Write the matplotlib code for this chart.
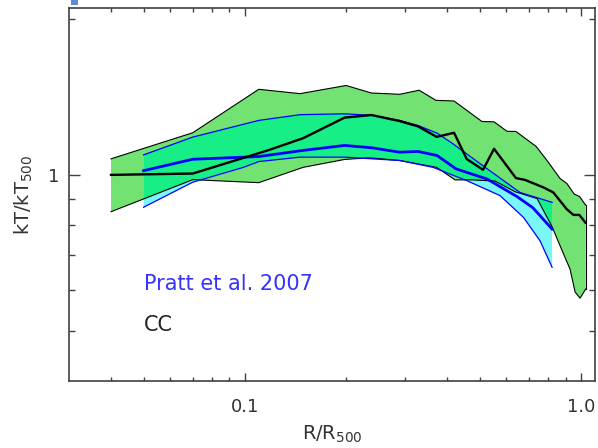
import matplotlib
matplotlib.use('Agg')
import matplotlib.pyplot as plt
from matplotlib.patches import Rectangle
from matplotlib.ticker import FixedLocator, FixedFormatter, NullFormatter
import numpy as np

plt.rcParams['font.family'] = ['DejaVu Sans']
plt.rcParams['mathtext.default'] = 'regular'

# CC sample: median profile and scatter envelope
cc_x = [0.040, 0.070, 0.117, 0.149, 0.198, 0.238, 0.289, 0.328, 0.372, 0.419, 0.457,
        0.511, 0.551, 0.640, 0.681, 0.772, 0.827, 0.906, 0.949, 0.988, 1.03]
cc_y = [1.000, 1.006, 1.115, 1.177, 1.290, 1.305, 1.270, 1.240, 1.184, 1.206, 1.073,
        1.023, 1.123, 0.986, 0.978, 0.946, 0.925, 0.859, 0.837, 0.837, 0.809]

cc_hi_x = [0.040, 0.070, 0.110, 0.146, 0.200, 0.238, 0.289, 0.330, 0.370, 0.419, 0.507,
           0.551, 0.602, 0.640, 0.735, 0.792, 0.866, 0.908, 0.953, 0.990, 1.032]
cc_hi_y = [1.074, 1.206, 1.463, 1.435, 1.488, 1.439, 1.431, 1.457, 1.393, 1.389, 1.268,
           1.266, 1.214, 1.213, 1.135, 1.066, 0.984, 0.962, 0.919, 0.908, 0.874]

cc_lo_x = [0.040, 0.070, 0.110, 0.149, 0.198, 0.235, 0.289, 0.372, 0.422, 0.474, 0.555,
           0.636, 0.740, 0.820, 0.884, 0.927, 0.960, 0.993, 1.032]
cc_lo_y = [0.849, 0.979, 0.966, 1.034, 1.071, 1.079, 1.066, 1.034, 0.978, 0.978, 0.973,
           0.928, 0.900, 0.794, 0.707, 0.658, 0.594, 0.578, 0.602]

# Pratt et al. 2007: mean profile and envelope
pr_x = [0.050, 0.070, 0.110, 0.149, 0.198, 0.239, 0.289, 0.327, 0.373, 0.425, 0.525,
        0.645, 0.719, 0.820]
pr_y = [1.019, 1.072, 1.085, 1.115, 1.140, 1.128, 1.106, 1.110, 1.090, 1.027, 0.982,
        0.908, 0.864, 0.786]

pr_hi_x = [0.050, 0.070, 0.110, 0.146, 0.198, 0.239, 0.289, 0.327, 0.373, 0.416, 0.525,
           0.658, 0.820]
pr_hi_y = [1.093, 1.183, 1.274, 1.307, 1.312, 1.303, 1.274, 1.246, 1.204, 1.148, 1.028,
           0.925, 0.885]

pr_lo_x = [0.050, 0.070, 0.099, 0.110, 0.146, 0.198, 0.289, 0.363, 0.457, 0.574, 0.674,
           0.755, 0.820]
pr_lo_y = [0.866, 0.968, 1.034, 1.061, 1.082, 1.082, 1.066, 1.034, 0.975, 0.912, 0.828,
           0.746, 0.663]

GREEN_FILL = '#72e272'
CYAN_FILL = '#7af6f6'
BOTH_FILL = '#18ee86'
AXCOL = '#404040'
TXT = '#333333'

W, H = 598, 448
fig = plt.figure(figsize=(W / 100., H / 100.), dpi=100)
ax = fig.add_axes([69. / W, 67. / H, 526. / W, 373. / H])

# scatter envelopes; where they overlap the colours mix
cc_band_x = np.r_[cc_hi_x, cc_lo_x[::-1]]
cc_band_y = np.r_[cc_hi_y, cc_lo_y[::-1]]
pr_band_x = np.r_[pr_hi_x, pr_lo_x[::-1]]
pr_band_y = np.r_[pr_hi_y, pr_lo_y[::-1]]

green = ax.fill(cc_band_x, cc_band_y, facecolor=GREEN_FILL, linewidth=0)[0]
ax.fill(pr_band_x, pr_band_y, facecolor=CYAN_FILL, linewidth=0)
both = ax.fill(pr_band_x, pr_band_y, facecolor=BOTH_FILL, linewidth=0)[0]
both.set_clip_path(green)

# envelope borders
ax.plot(cc_hi_x, cc_hi_y, color='black', lw=0.8)
ax.plot(cc_lo_x, cc_lo_y, color='black', lw=0.8)
ax.plot([cc_hi_x[-1], cc_lo_x[-1]], [cc_hi_y[-1], cc_lo_y[-1]], color='black', lw=0.8)
ax.plot(pr_hi_x, pr_hi_y, color='#0000ff', lw=0.9)
ax.plot(pr_lo_x, pr_lo_y, color='#0000ff', lw=0.9)

# central profiles
ax.plot(pr_x, pr_y, color='#0000ff', lw=2.0)
ax.plot(cc_x, cc_y, color='black', lw=1.7)

ax.set_xscale('log')
ax.set_yscale('log')
ax.set_xlim(0.03, 1.1)
ax.set_ylim(0.4, 2.1)

ax.xaxis.set_major_locator(FixedLocator([0.1, 1.0]))
ax.xaxis.set_major_formatter(FixedFormatter(['0.1', '1.0']))
ax.xaxis.set_minor_locator(FixedLocator([0.04, 0.05, 0.06, 0.07, 0.08, 0.09,
                                         0.2, 0.3, 0.4, 0.5, 0.6, 0.7, 0.8, 0.9]))
ax.xaxis.set_minor_formatter(NullFormatter())
ax.yaxis.set_major_locator(FixedLocator([1.0]))
ax.yaxis.set_major_formatter(FixedFormatter(['1']))
ax.yaxis.set_minor_locator(FixedLocator([0.5, 0.6, 0.7, 0.8, 0.9, 2.0]))
ax.yaxis.set_minor_formatter(NullFormatter())

ax.tick_params(which='both', direction='in', top=True, right=True, color=AXCOL,
               width=1.0, labelsize=13, labelcolor=TXT)
ax.tick_params(axis='x', which='major', length=6, pad=12)
ax.tick_params(axis='x', which='minor', length=3)
ax.tick_params(axis='y', which='major', length=8, pad=7)
ax.tick_params(axis='y', which='minor', length=4.3)
for sp in ax.spines.values():
    sp.set_color(AXCOL)
    sp.set_linewidth(1.2)

ax.set_xlabel('R/R$_{500}$', fontsize=14, color=TXT, labelpad=6)
ax.set_ylabel('kT/kT$_{500}$', fontsize=14, color=TXT, labelpad=9)

ax.text(0.05, 0.6, 'Pratt et al. 2007', color='#3333ff', fontsize=15, va='baseline')
ax.text(0.05, 0.5, 'CC', color='#222222', fontsize=15, va='baseline')

fig.add_artist(Rectangle((71. / W, 443. / H), 7. / W, 5. / H,
                         transform=fig.transFigure, color='#5b8bd6', lw=0))

fig.savefig('out.png', dpi=100)
